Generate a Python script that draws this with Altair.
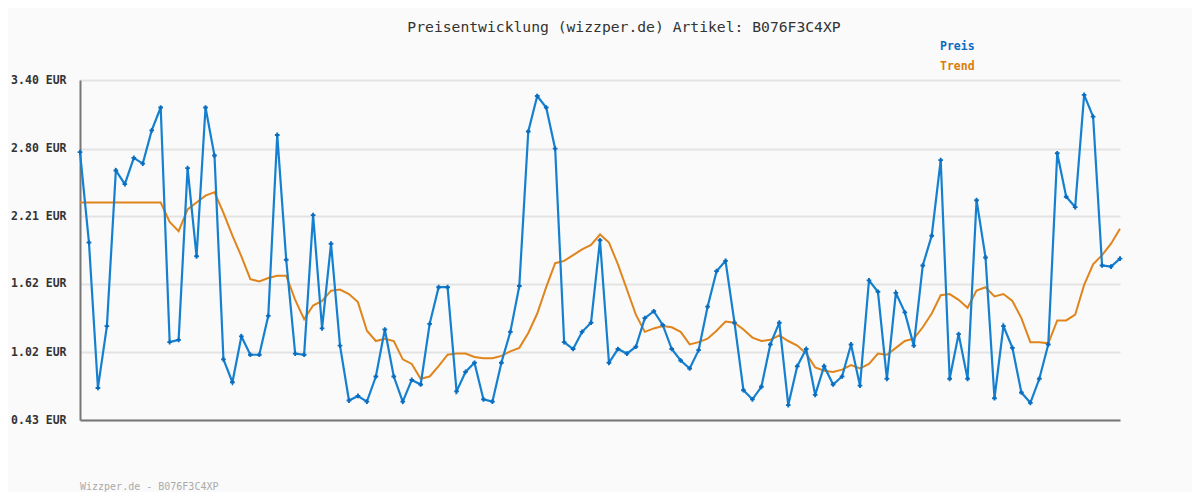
import altair as alt
import pandas as pd

title_text = "Preisentwicklung (wizzper.de) Artikel: B076F3C4XP"
footer_text = "Wizzper.de - B076F3C4XP"
legend_labels = ["Preis", "Trend"]
y_ticks = [0.43, 1.02, 1.62, 2.21, 2.80, 3.40]

price = [2.77, 1.98, 0.71, 1.25, 2.61, 2.49, 2.72, 2.67, 2.96, 3.16,
         1.11, 1.13, 2.63, 1.86, 3.16, 2.74, 0.96, 0.76, 1.16, 1.00,
         1.00, 1.34, 2.92, 1.83, 1.01, 1.00, 2.22, 1.23, 1.97, 1.08,
         0.60, 0.64, 0.59, 0.81, 1.22, 0.81, 0.59, 0.78, 0.74, 1.27,
         1.59, 1.59, 0.68, 0.85, 0.93, 0.61, 0.59, 0.93, 1.20, 1.60,
         2.95, 3.26, 3.16, 2.80, 1.11, 1.05, 1.20, 1.28, 2.00, 0.93,
         1.05, 1.01, 1.07, 1.32, 1.38, 1.26, 1.05, 0.95, 0.88, 1.04,
         1.42, 1.73, 1.82, 1.28, 0.69, 0.61, 0.72, 1.09, 1.28, 0.56,
         0.90, 1.05, 0.65, 0.90, 0.74, 0.81, 1.09, 0.73, 1.65, 1.55,
         0.79, 1.54, 1.37, 1.08, 1.78, 2.04, 2.70, 0.79, 1.18, 0.79,
         2.35, 1.85, 0.62, 1.25, 1.06, 0.67, 0.58, 0.79, 1.09, 2.76,
         2.38, 2.29, 3.27, 3.08, 1.78, 1.77, 1.84]

trend = [2.33, 2.33, 2.33, 2.33, 2.33, 2.33, 2.33, 2.33, 2.33, 2.33,
         2.16, 2.08, 2.27, 2.33, 2.39, 2.42, 2.24, 2.04, 1.86, 1.66,
         1.64, 1.67, 1.69, 1.69, 1.48, 1.31, 1.43, 1.47, 1.56, 1.57,
         1.53, 1.46, 1.21, 1.12, 1.14, 1.12, 0.96, 0.92, 0.79, 0.81,
         0.90, 1.00, 1.01, 1.01, 0.98, 0.97, 0.97, 0.99, 1.03, 1.06,
         1.19, 1.36, 1.59, 1.80, 1.82, 1.87, 1.92, 1.96, 2.05, 1.98,
         1.79, 1.57, 1.35, 1.20, 1.23, 1.25, 1.24, 1.20, 1.09, 1.11,
         1.14, 1.21, 1.29, 1.28, 1.22, 1.15, 1.12, 1.13, 1.17, 1.12,
         1.08, 1.01, 0.89, 0.86, 0.85, 0.87, 0.91, 0.88, 0.92, 1.01,
         1.00, 1.06, 1.12, 1.14, 1.24, 1.36, 1.52, 1.53, 1.48, 1.41,
         1.56, 1.59, 1.51, 1.53, 1.47, 1.32, 1.11, 1.11, 1.10, 1.30,
         1.30, 1.35, 1.61, 1.79, 1.87, 1.97, 2.10]

df = pd.DataFrame({"idx": list(range(len(price))), "price": price, "trend": trend})

BLUE = "#1580cf"
BLUE_DARK = "#0a6cbf"
ORANGE = "#e0841c"
MONO = "DejaVu Sans Mono"

x_enc = alt.X("idx:Q", scale=alt.Scale(domain=[0, len(price) - 1], nice=False, zero=False),
              axis=alt.Axis(labels=False, ticks=False, grid=False, title=None,
                            domainColor="#777777", domainWidth=2))
y_scale = alt.Scale(domain=[0.43, 3.40], nice=False, zero=False)
y_axis = alt.Axis(values=y_ticks, labelExpr="format(datum.value, '.2f') + ' EUR'",
                  ticks=False, grid=True, gridColor="#e3e3e3", gridWidth=2,
                  domainColor="#777777", domainWidth=2, title=None,
                  labelFont=MONO, labelFontSize=11.5, labelFontWeight="bold",
                  labelColor="#333333", labelPadding=14)

base = alt.Chart(df)

trend_line = base.mark_line(color=ORANGE, strokeWidth=2).encode(
    x=x_enc, y=alt.Y("trend:Q", scale=y_scale, axis=y_axis))
price_line = base.mark_line(color=BLUE, strokeWidth=2.2).encode(
    x=x_enc, y=alt.Y("price:Q", scale=y_scale, axis=y_axis))
price_pts = base.mark_point(shape="cross", filled=True, size=22, color=BLUE_DARK, opacity=1).encode(
    x=x_enc, y=alt.Y("price:Q", scale=y_scale, axis=y_axis))

title_mark = alt.Chart(pd.DataFrame({"t": [title_text]})).mark_text(
    font=MONO, fontSize=14.7, color="#333333", align="center", baseline="middle"
).encode(text="t:N", x=alt.value(544), y=alt.value(-52))

leg_df = pd.DataFrame({"label": legend_labels})
leg_preis = alt.Chart(pd.DataFrame({"t": [legend_labels[0]]})).mark_text(
    font=MONO, fontSize=11.5, fontWeight="bold", color=BLUE_DARK, align="left", baseline="middle"
).encode(text="t:N", x=alt.value(860), y=alt.value(-33))
leg_trend = alt.Chart(pd.DataFrame({"t": [legend_labels[1]]})).mark_text(
    font=MONO, fontSize=11.5, fontWeight="bold", color="#d97c0a", align="left", baseline="middle"
).encode(text="t:N", x=alt.value(860), y=alt.value(-13))

footer = alt.Chart(pd.DataFrame({"t": [footer_text]})).mark_text(
    font=MONO, fontSize=10, color="#aaaaaa", align="left", baseline="middle"
).encode(text="t:N", x=alt.value(0), y=alt.value(407))

chart = alt.layer(trend_line, price_line, price_pts, title_mark, leg_preis, leg_trend, footer).properties(
    width=1040, height=340,
    autosize=alt.AutoSizeParams(type="none"),
    padding={"left": 72, "top": 72, "right": 72, "bottom": 72},
    background="#fafafa",
).configure_view(stroke=None)

chart.save("out.html", embed_options={"renderer": "svg", "actions": False})
